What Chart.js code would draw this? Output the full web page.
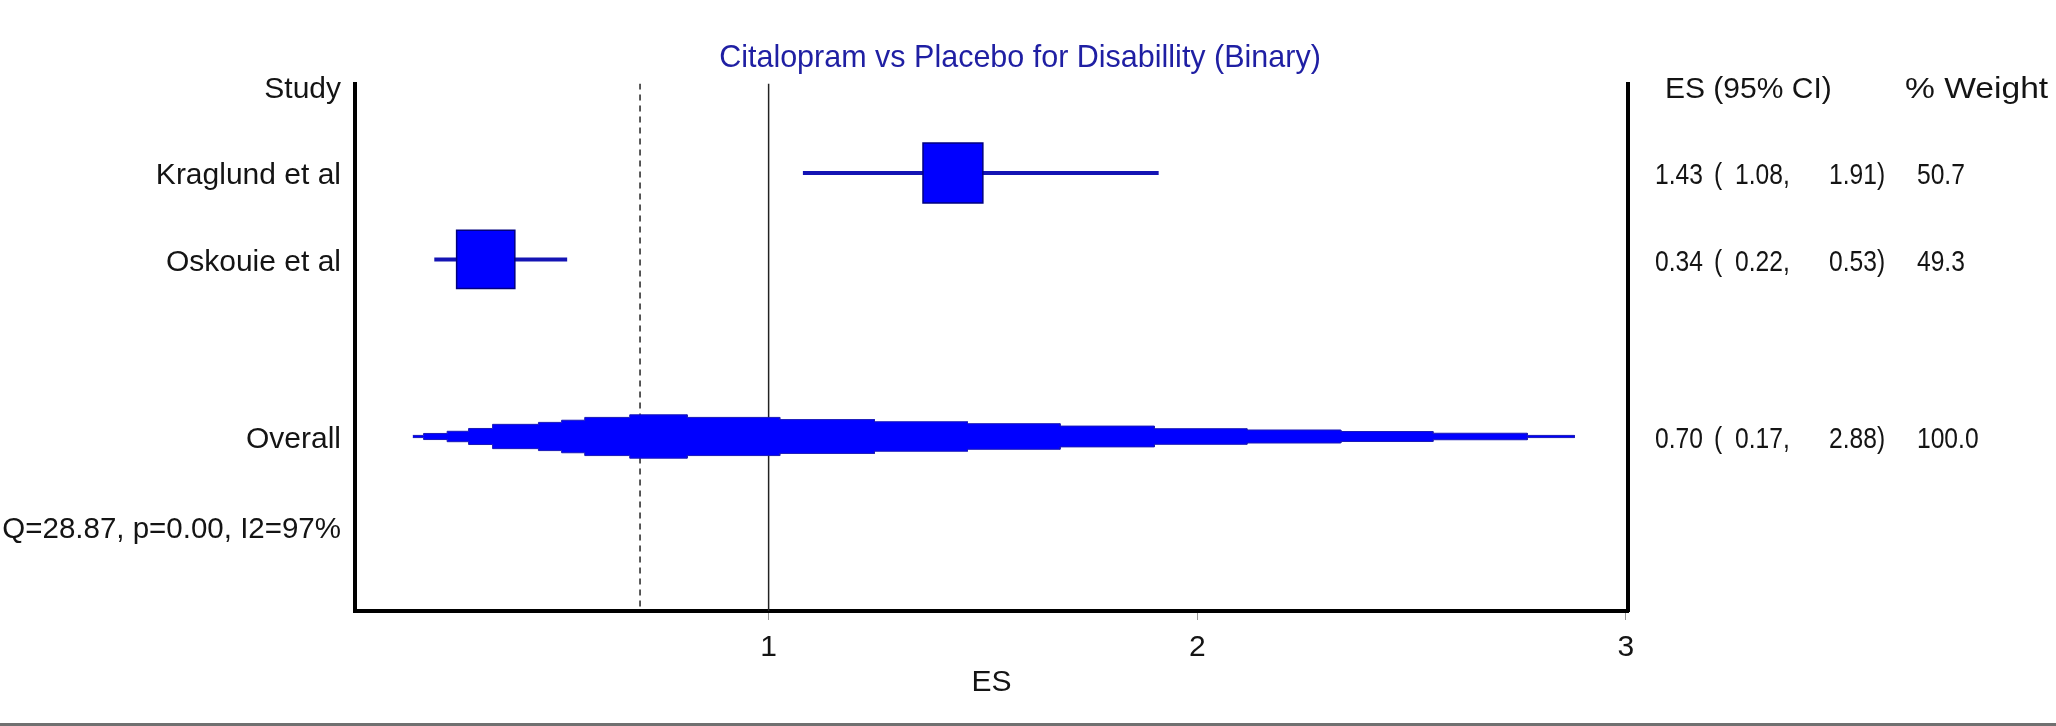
<!DOCTYPE html>
<html lang="en">
<head>
<meta charset="UTF-8">
<title>Citalopram vs Placebo for Disability</title>
<script src="https://cdn.jsdelivr.net/npm/chart.js"></script>
<style>
  body { margin: 0; background: #fff; }
  #wrap { width: 2056px; height: 726px; box-sizing: border-box; border-bottom: 3px solid #707070; }
  canvas { display: block; }
</style>
</head>
<body>
<div id="wrap"><canvas id="forest" width="2056" height="723"></canvas></div>
<script>
// Studies in the meta-analysis
const studies = ['Kraglund et al', 'Oskouie et al'];
const effect = [1.43, 0.34];
const lower = [1.08, 0.22];
const upper = [1.91, 0.53];
const weight = [50.7, 49.3];

// Pooled estimate
const overallES = 0.70;
const overallLower = 0.17;
const overallUpper = 2.88;
const heterogeneity = 'Q=28.87, p=0.00, I2=97%';

// Stepped outline of the pooled estimate (relative height of each step)
const overallEdges = [overallLower, 0.195, 0.25, 0.30, 0.356, 0.463, 0.517, 0.571, 0.676, 0.81,
  1.026, 1.247, 1.464, 1.68, 1.90, 2.116, 2.335, 2.55, 2.77, overallUpper];
const overallDensity = [0.05, 0.14, 0.24, 0.37, 0.56, 0.65, 0.75, 0.88, 1.0,
  0.88, 0.78, 0.68, 0.59, 0.48, 0.36, 0.30, 0.23, 0.15, 0.05];

const xTicks = [1, 2, 3];

// Row layout on the y scale
const studyRows = studies.map((s, i) => i + 1);
const overallRow = studies.length + 2.05;
const hetRow = studies.length + 3.1;
const rowValues = [0, ...studyRows, overallRow, hetRow];
const rowLabels = ['Study', ...studies, 'Overall', heterogeneity];

const FONT = '"Liberation Sans", Arial, Helvetica, sans-serif';
const TEXT_SIZE = 30;
Chart.defaults.font.family = FONT;
Chart.defaults.font.size = TEXT_SIZE;
Chart.defaults.color = '#141414';

// Polygon for the pooled estimate
const maxHalf = 0.251;
const upperEdge = [];
const lowerEdge = [];
overallDensity.forEach((d, i) => {
  const h = d * maxHalf;
  upperEdge.push({ x: overallEdges[i], y: overallRow - h }, { x: overallEdges[i + 1], y: overallRow - h });
  lowerEdge.push({ x: overallEdges[i], y: overallRow + h }, { x: overallEdges[i + 1], y: overallRow + h });
});
const overallShape = upperEdge.concat(lowerEdge.reverse());

const datasets = [];

// Study squares sized by weight
datasets.push({
  type: 'scatter',
  data: effect.map((e, i) => ({ x: e, y: studyRows[i] })),
  pointStyle: 'rect',
  pointRadius: ctx => weight[ctx.dataIndex] * 0.835,
  backgroundColor: '#0000ff',
  borderColor: '#000080',
  borderWidth: 1.5,
  order: 0
});

// Confidence intervals
studies.forEach((s, i) => {
  datasets.push({
    type: 'line',
    data: [{ x: lower[i], y: studyRows[i] }, { x: upper[i], y: studyRows[i] }],
    borderColor: '#1414b4',
    borderWidth: 4,
    pointRadius: 0,
    order: 1
  });
});

datasets.push({
  type: 'line',
  data: overallShape,
  borderColor: '#1a1ab8',
  borderWidth: 1,
  backgroundColor: '#0000ff',
  fill: 'shape',
  pointRadius: 0,
  tension: 0,
  order: 2
});

const yMin = -0.035;
const yMax = 6.07;

// Null line and pooled estimate line
datasets.push({
  type: 'line',
  data: [{ x: 1, y: yMin }, { x: 1, y: yMax }],
  borderColor: '#222',
  borderWidth: 1.5,
  pointRadius: 0,
  order: 3
});
datasets.push({
  type: 'line',
  data: [{ x: overallES, y: yMin }, { x: overallES, y: yMax }],
  borderColor: '#222',
  borderWidth: 1.5,
  borderDash: [6, 5],
  pointRadius: 0,
  order: 3
});

// draw text stretched or squeezed horizontally
function drawText(ctx, text, x, y, sx) {
  ctx.save();
  ctx.translate(x, y);
  ctx.scale(sx, 1);
  ctx.fillText(text, 0, 0);
  ctx.restore();
}

// Right-hand columns: ES (95% CI) and % Weight
const columnText = {
  id: 'columnText',
  afterDraw(chart) {
    const ctx = chart.ctx;
    const y = chart.scales.y;
    ctx.save();
    ctx.font = TEXT_SIZE + 'px ' + FONT;
    ctx.fillStyle = '#141414';
    ctx.textBaseline = 'middle';
    ctx.textAlign = 'left';
    const hy = y.getPixelForValue(0) + 3;
    drawText(ctx, 'ES (95% CI)', 1665, hy, 1);
    drawText(ctx, '% Weight', 1905, hy, 1.12);
    const rows = studies.map((s, i) => [effect[i], lower[i], upper[i], weight[i], studyRows[i]]);
    const totalWeight = weight.reduce((a, b) => a + b, 0);
    rows.push([overallES, overallLower, overallUpper, totalWeight, overallRow]);
    rows.forEach(r => {
      const py = y.getPixelForValue(r[4]) + 3;
      drawText(ctx, r[0].toFixed(2), 1655, py, 0.82);
      drawText(ctx, '(', 1714, py, 0.82);
      drawText(ctx, r[1].toFixed(2) + ',', 1735, py, 0.82);
      drawText(ctx, r[2].toFixed(2) + ')', 1829, py, 0.82);
      drawText(ctx, r[3].toFixed(1), 1917, py, 0.82);
    });
    ctx.restore();
  }
};

new Chart(document.getElementById('forest'), {
  data: { datasets },
  options: {
    responsive: false,
    animation: false,
    layout: { padding: { right: 16 } },
    plugins: {
      legend: { display: false },
      tooltip: { enabled: false },
      title: {
        display: true,
        text: 'Citalopram vs Placebo for Disabillity (Binary)',
        color: '#1f1fa3',
        font: { size: 30.5, weight: 'normal' },
        padding: { top: 40, bottom: 7 }
      }
    },
    scales: {
      x: {
        type: 'linear',
        min: 0.035,
        max: 3.005,
        afterBuildTicks: scale => { scale.ticks = xTicks.map(v => ({ value: v })); },
        afterFit: scale => { scale.height = 112; },
        ticks: { padding: 10, callback: v => v },
        grid: { drawOnChartArea: false, drawTicks: true, tickLength: 9, color: '#999', lineWidth: 1 },
        border: { display: true, color: '#000', width: 4 },
        title: { display: true, text: 'ES', padding: { top: 0, bottom: 22 } }
      },
      y: {
        type: 'linear',
        reverse: true,
        min: yMin,
        max: yMax,
        afterBuildTicks: scale => { scale.ticks = rowValues.map(v => ({ value: v })); },
        afterFit: scale => { scale.width = 355; },
        ticks: {
          padding: 14,
          labelOffset: 3,
          font: ctx => ({ size: ctx.index === rowValues.length - 1 ? 29.5 : TEXT_SIZE }),
          callback: (v, i) => rowLabels[i]
        },
        grid: { display: false, drawTicks: false },
        border: { display: true, color: '#000', width: 4 }
      },
      y2: {
        type: 'linear',
        position: 'right',
        reverse: true,
        min: yMin,
        max: yMax,
        afterFit: scale => { scale.width = 412; },
        ticks: { display: false },
        grid: { display: false, drawTicks: false },
        border: { display: true, color: '#000', width: 4 }
      }
    }
  },
  plugins: [columnText]
});
</script>
</body>
</html>
